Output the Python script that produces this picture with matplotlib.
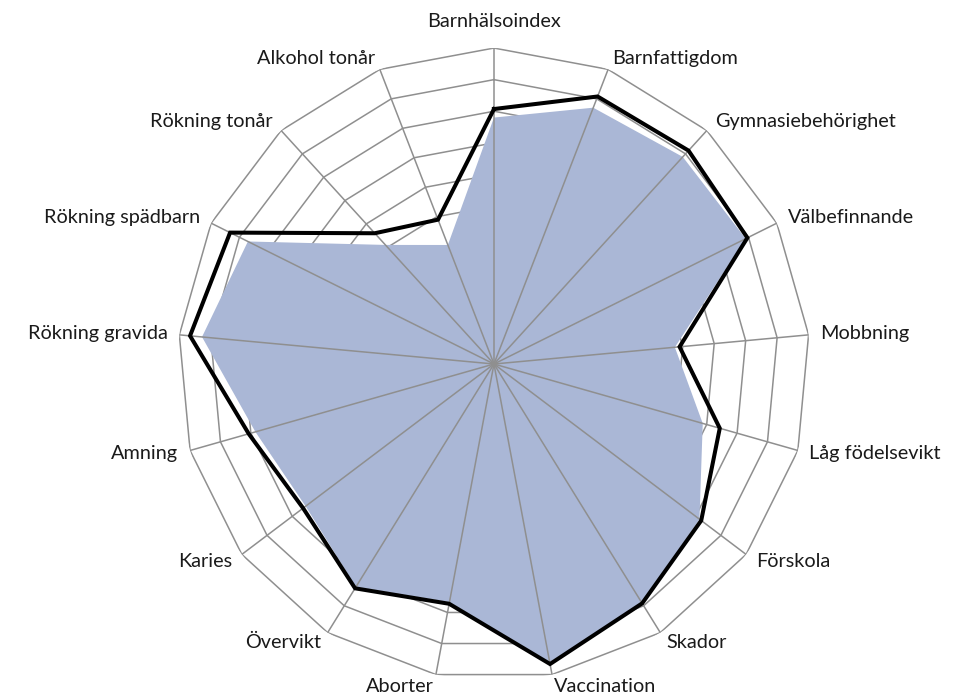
import numpy as np
import matplotlib
matplotlib.use("Agg")
import matplotlib.pyplot as plt

# === Data ===
categories = [
    "Barnhälsoindex", "Barnfattigdom", "Gymnasiebehörighet", "Välbefinnande",
    "Mobbning", "Låg födelsevikt", "Förskola", "Skador", "Vaccination",
    "Aborter", "Övervikt", "Karies", "Amning", "Rökning gravida",
    "Rökning spädbarn", "Rökning tonår", "Alkohol tonår",
]
line_values = [8.07, 9.08, 9.14, 8.96, 5.9, 7.43, 8.22, 8.91, 9.66,
               7.72, 8.35, 7.57, 8.07, 9.66, 9.33, 5.6, 4.9]
fill_values = [7.8, 8.7, 8.87, 8.9, 5.75, 6.87, 8.15, 8.95, 9.6,
               7.67, 8.3, 7.47, 7.85, 9.28, 8.7, 5.1, 4.04]
rings = list(range(1, 11))

# === Styling ===
GRID = "#8f8f8f"
FILL = "#aab7d6"

plt.rcParams["font.family"] = ["Lato", "DejaVu Sans"]

n = len(categories)
theta = np.arange(n) * 2 * np.pi / n
theta_closed = np.append(theta, theta[0])


def closed(vals):
    return np.append(vals, vals[0])


fig = plt.figure(figsize=(9.56, 6.98), dpi=100)
ax = fig.add_axes([0.1862, 0.0258, 0.661, 0.9054], projection="polar")
ax.set_theta_zero_location("N")
ax.set_theta_direction(-1)
ax.set_ylim(0, rings[-1])
ax.grid(False)
ax.spines["polar"].set_visible(False)
ax.set_xticks([])
ax.set_yticks([])
ax.patch.set_alpha(0)

# polygon rings (behind the fill)
for r in rings:
    ax.plot(theta_closed, [r] * (n + 1), color=GRID, lw=1.1, zorder=1)

# area series
ax.fill(theta_closed, closed(fill_values), color=FILL, lw=0, zorder=2)

# spokes over the fill
for t in theta:
    ax.plot([t, t], [0, rings[-1]], color=GRID, lw=1.1, zorder=3)

# line series
ax.plot(theta_closed, closed(line_values), color="black", lw=2.9,
        solid_joinstyle="miter", zorder=4)

# category labels
gap = 12 * 0.72  # px -> pt
for t, name in zip(theta, categories):
    s, c = np.sin(t), np.cos(t)
    if abs(s) < 0.1:
        ha = "center"
        va = "bottom" if c > 0 else "top"
        off = (0, 18 * 0.72 * np.sign(c))
    else:
        ha = "left" if s > 0 else "right"
        va = "center"
        off = (gap * s, gap * c)
    ax.annotate(name, xy=(t, rings[-1]), xytext=off, textcoords="offset points",
                ha=ha, va=va, fontsize=14.3, color="#1a1a1a",
                annotation_clip=False)

fig.savefig("out.png", dpi=100)
